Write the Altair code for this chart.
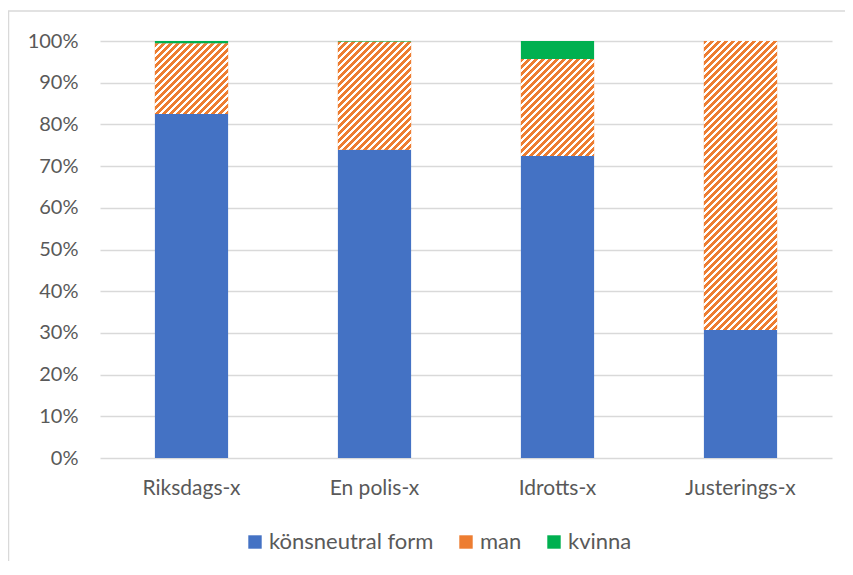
import altair as alt
import pandas as pd

categories = ["Riksdags-x", "En polis-x", "Idrotts-x", "Justerings-x"]
series = ["könsneutral form", "man", "kvinna"]
neutral = [82.5, 73.9, 72.4, 30.7]
man = [16.9, 25.9, 23.3, 69.3]
kvinna = [0.6, 0.2, 4.3, 0.0]
colors = ["#4472C4", "#ED7D31", "#00B050"]
y_ticks = [0, 0.1, 0.2, 0.3, 0.4, 0.5, 0.6, 0.7, 0.8, 0.9, 1.0]

rows = []
for i, c in enumerate(categories):
    for j, vals in enumerate([neutral, man, kvinna]):
        rows.append({"cat": c, "series": series[j], "ord": j, "value": vals[i]})
df = pd.DataFrame(rows)

W, H = 732, 417
FONT = "Lato"
GREY = "#595959"
band_w = W / len(categories) * 0.4

base = alt.Chart(df).transform_stack(
    stack="value", groupby=["cat"], as_=["y0", "y1"],
    sort=[alt.SortField("ord")], offset="normalize"
)

x_enc = alt.X("cat:N", sort=categories, title=None,
              scale=alt.Scale(paddingInner=0.6, paddingOuter=0.3),
              axis=alt.Axis(labelAngle=0, labelFontSize=21, labelFont=FONT,
                            labelColor=GREY, labelPadding=19, ticks=False,
                            tickSize=0, domain=False, grid=False))
y_enc = alt.Y("y0:Q", title=None, scale=alt.Scale(domain=[0, 1]),
              axis=alt.Axis(format=".0%", values=y_ticks, labelFontSize=20,
                            labelFont=FONT, labelColor=GREY, labelPadding=22,
                            ticks=False, tickSize=0, domain=False,
                            gridColor="#D9D9D9", gridWidth=1.3))

bars = base.mark_bar(strokeWidth=0).encode(
    x=x_enc, y=y_enc, y2="y1:Q",
    color=alt.Color("series:N", scale=alt.Scale(domain=series, range=colors),
                    legend=alt.Legend(orient="none", legendX=144, legendY=490,
                                      direction="horizontal", title=None,
                                      symbolType="square", symbolSize=180,
                                      symbolStrokeWidth=0, labelFontSize=22,
                                      labelFont=FONT, labelColor=GREY,
                                      labelLimit=400,
                                      columnPadding=21, labelOffset=3)),
)


def stripes(w, h, period=7.0, frac=0.55, col="#ED7D31"):
    a = w / (w + h)
    b = h / (w + h)
    n = (w + h) / period
    stops = []
    k = 0
    while k / n < 1:
        o0 = k / n
        o1 = min((k + frac) / n, 1.0)
        o2 = min((k + 1) / n, 1.0)
        stops += [alt.GradientStop(color=col, offset=o0),
                  alt.GradientStop(color=col, offset=o1),
                  alt.GradientStop(color="#FFFFFF", offset=o1),
                  alt.GradientStop(color="#FFFFFF", offset=o2)]
        k += 1
    d = a * a + b * b
    return alt.LinearGradient(gradient="linear", stops=stops,
                              x1=0, y1=0, x2=a / d, y2=b / d)


layers = [bars]
for i, c in enumerate(categories):
    tot = neutral[i] + man[i] + kvinna[i]
    h = man[i] / tot * H
    if h <= 0:
        continue
    g = stripes(band_w, h)
    layers.append(
        base.transform_filter(
            (alt.datum.cat == c) & (alt.datum.series == "man")
        ).mark_bar(fill=g, strokeWidth=0).encode(x=x_enc, y=y_enc, y2="y1:Q")
    )

frame = alt.Chart(pd.DataFrame({"a": [0]})).mark_rect(
    fill=None, stroke="#D9D9D9", strokeWidth=1.5
).encode(x=alt.value(-91.5), x2=alt.value(W + 60),
         y=alt.value(-30), y2=alt.value(H + 200))
layers.append(frame)

chart = alt.layer(*layers).properties(
    width=W, height=H, autosize="none",
    padding={"left": 92, "top": 33, "right": 13, "bottom": 103},
).configure_view(stroke=None)

chart.save("out.html", embed_options={"renderer": "svg", "actions": False})
